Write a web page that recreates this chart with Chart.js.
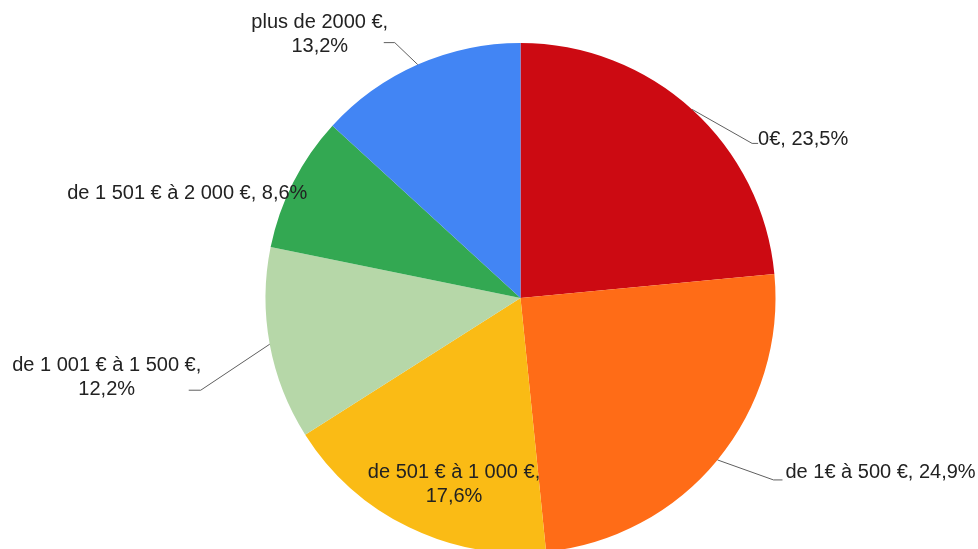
<!DOCTYPE html>
<html>
<head>
<meta charset="utf-8">
<script src="https://cdn.jsdelivr.net/npm/chart.js@4/dist/chart.umd.min.js"></script>
<style>
  html,body{margin:0;padding:0;background:#fff;overflow:hidden}
  #wrap{position:relative;width:978px;height:600px}
</style>
</head>
<body>
<div id="wrap"><canvas id="pie"></canvas></div>
<script>
// data
const categories = ['0€', 'de 1€ à 500 €', 'de 501 € à 1 000 €', 'de 1 001 € à 1 500 €', 'de 1 501 € à 2 000 €', 'plus de 2000 €'];
const shares = [23.5, 24.9, 17.6, 12.2, 8.6, 13.2];
const colors = ['#cc0a12', '#ff6c17', '#fabb15', '#b6d7a8', '#33a852', '#4285f4'];

const fmt = v => v.toFixed(1).replace('.', ',') + '%';
const oneLine = i => [categories[i] + ', ' + fmt(shares[i])];
const twoLines = i => [categories[i] + ',', fmt(shares[i])];

// label layout per slice: how text is split, where the leader goes (relative to slice edge)
const labelLayout = [
  {lines:oneLine, elbow:[60,34], end:[66,34], align:'left', text:[66,30]},
  {lines:oneLine, elbow:[56,20], end:[65,20], align:'left', text:[68,13]},
  {lines:twoLines, inside:true, align:'center', text:[45,-55]},
  {lines:twoLines, elbow:[-69,46], end:[-81,46], align:'center', text:[-163,21]},
  {lines:oneLine, inside:true, align:'center', text:[-106,11]},
  {lines:twoLines, elbow:[-23,-22], end:[-34,-22], align:'center', text:[-98,-42]}
];

const labelPlugin = {
  id:'pieLabels',
  afterDatasetsDraw(chart){
    const ctx = chart.ctx;
    const meta = chart.getDatasetMeta(0);
    meta.data.forEach((arc, i) => {
      const p = arc.getProps(['x','y','startAngle','endAngle','outerRadius']);
      const mid = (p.startAngle + p.endAngle) / 2;
      const ax = p.x + Math.cos(mid) * p.outerRadius;
      const ay = p.y + Math.sin(mid) * p.outerRadius;
      const L = labelLayout[i];
      ctx.save();
      if(!L.inside){
        ctx.strokeStyle = '#5f5f5f';
        ctx.lineWidth = 1;
        ctx.beginPath();
        ctx.moveTo(ax, ay);
        ctx.lineTo(ax + L.elbow[0], ay + L.elbow[1]);
        ctx.lineTo(ax + L.end[0], ay + L.end[1]);
        ctx.stroke();
      }
      ctx.fillStyle = '#222';
      ctx.font = '20px "Liberation Sans", Arial, sans-serif';
      ctx.textAlign = L.align;
      ctx.textBaseline = 'middle';
      L.lines(i).forEach((t, k) => {
        ctx.fillText(t, ax + L.text[0], ay + L.text[1] + k * 24);
      });
      ctx.restore();
    });
  }
};

new Chart(document.getElementById('pie'), {
  type:'pie',
  data:{labels:categories, datasets:[{data:shares, backgroundColor:colors, borderWidth:0}]},
  options:{
    responsive:true,
    maintainAspectRatio:false,
    animation:false,
    layout:{padding:{top:43, bottom:47, left:265, right:202}},
    plugins:{legend:{display:false}, tooltip:{enabled:false}}
  },
  plugins:[labelPlugin]
});
</script>
</body>
</html>
